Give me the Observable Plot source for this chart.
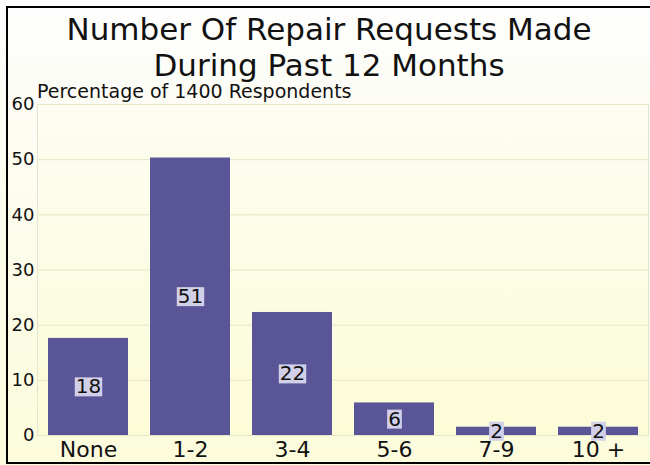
<!DOCTYPE html>
<html>
<head>
<meta charset="utf-8">
<script src="https://cdn.jsdelivr.net/npm/d3@7"></script>
<script src="https://cdn.jsdelivr.net/npm/@observablehq/plot@0.6"></script>
<style>
  html, body { margin: 0; padding: 0; }
  #wrap {
    position: relative; width: 650px; height: 465px; overflow: hidden;
    background: linear-gradient(to bottom, #fefefe 0%, #fdfdf6 20%, #fcfcdc 100%);
    font-family: "DejaVu Sans", sans-serif;
  }
  #border {
    position: absolute; left: 6px; top: 6px; width: 700px; height: 454px;
    border: 2px solid #000; pointer-events: none; z-index: 5;
  }
  #title {
    position: absolute; left: 8px; width: 642px; top: 11px; text-align: center;
    font-size: 31px; line-height: 36px; color: #111; z-index: 3;
  }
  #subtitle {
    position: absolute; left: 37px; top: 80px; font-size: 19px; line-height: 22px; color: #111; z-index: 3;
  }
  #chart { position: absolute; left: 0; top: 0; }
</style>
</head>
<body>
<div id="wrap">
  <div id="border"></div>
  <div id="title">Number Of Repair Requests Made<br>During Past 12 Months</div>
  <div id="subtitle">Percentage of 1400 Respondents</div>
  <div id="chart"></div>
</div>
<script>
const categories = ["None", "1-2", "3-4", "5-6", "7-9", "10 +"];
const values = [17.6, 50.3, 22.3, 5.9, 1.5, 1.5];
const valueLabels = ["18", "51", "22", "6", "2", "2"];
const yTicks = [0, 10, 20, 30, 40, 50, 60];

const data = categories.map((c, i) => ({cat: c, value: values[i], label: valueLabels[i]}));

const chart = Plot.plot({
  width: 650,
  height: 465,
  marginTop: 104,
  marginBottom: 30,
  marginLeft: 37,
  marginRight: 2,
  style: {background: "transparent", fontFamily: "DejaVu Sans, sans-serif", color: "#111"},
  x: {domain: categories, paddingInner: 0.22, paddingOuter: 0.09, label: null},
  y: {domain: [0, 60], label: null},
  marks: [
    Plot.frame({fill: "url(#plotbg)", stroke: "#e4e4d2", strokeWidth: 1}),
    Plot.gridY(yTicks, {stroke: "#e6e6c8", strokeOpacity: 1, strokeWidth: 1}),
    Plot.barY(data, {x: "cat", y: "value", fill: "#5a5597"}),
    Plot.axisY(yTicks, {tickSize: 0, tickPadding: 3, fontSize: 18, fill: "#111", label: null}),
    Plot.axisX({tickSize: 0, tickPadding: 6, fontSize: 22, fill: "#111", label: null}),
    Plot.text(data, {x: "cat", y: d => d.value / 2, text: "label", fontSize: 20, fill: "#111", className: "vlabel"})
  ]
});

document.getElementById("chart").appendChild(chart);

// gradient for plot area
const svg = d3.select(chart);
const defs = svg.insert("defs", ":first-child");
const g = defs.append("linearGradient").attr("id", "plotbg").attr("x1", 0).attr("y1", 0).attr("x2", 0).attr("y2", 1);
g.append("stop").attr("offset", "0%").attr("stop-color", "#fdfdf2");
g.append("stop").attr("offset", "100%").attr("stop-color", "#fcfcd8");

// label background boxes
svg.selectAll("g.vlabel text").each(function() {
  const b = this.getBBox();
  d3.select(this.parentNode).insert("rect", () => this)
    .attr("transform", this.getAttribute("transform"))
    .attr("x", b.x - 1).attr("y", b.y + 3).attr("width", b.width + 2).attr("height", b.height - 5)
    .attr("fill", "#d2d0e8");
});
</script>
</body>
</html>
